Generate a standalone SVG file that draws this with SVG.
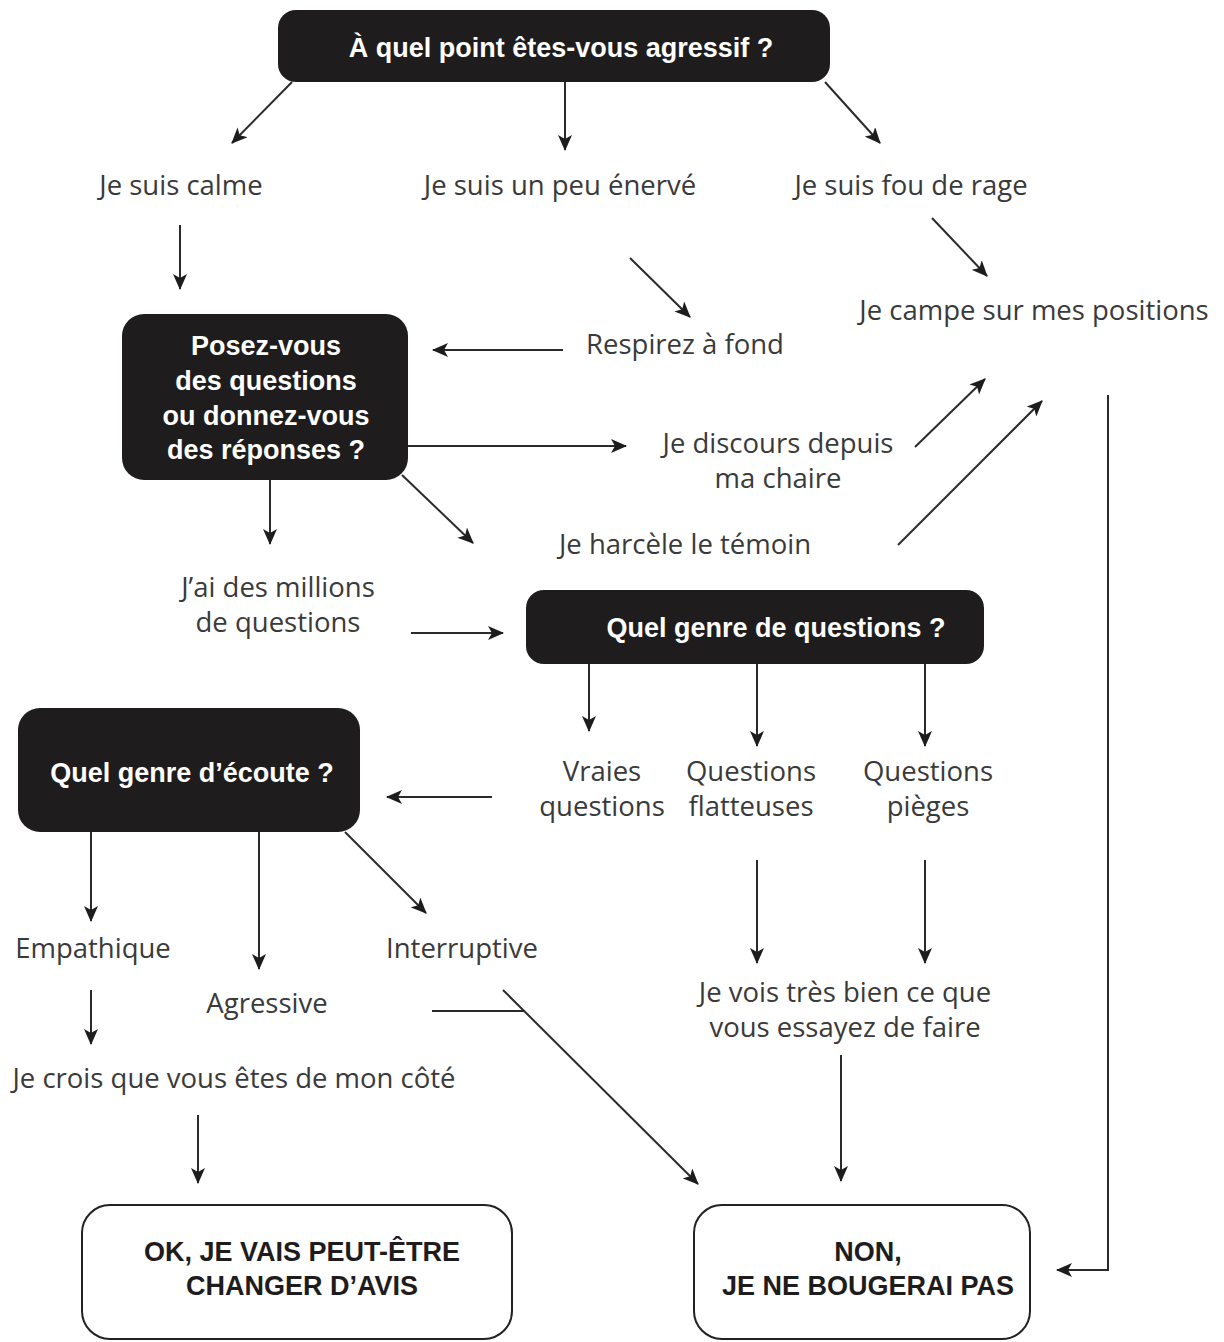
<svg xmlns="http://www.w3.org/2000/svg" width="1224" height="1342" viewBox="0 0 1224 1342">
<style>
.box{fill:#1e1c1c;}
.obox{fill:#fff;stroke:#222;stroke-width:2;}
.bt{font-family:"Liberation Sans","Roboto",sans-serif;font-weight:bold;font-size:27px;fill:#fff;text-anchor:middle;}
.ot{font-family:"Liberation Sans","Roboto",sans-serif;font-weight:bold;font-size:27px;fill:#1e1c1c;text-anchor:middle;}
.lb{font-family:"Open Sans","DejaVu Sans",sans-serif;font-size:27.5px;fill:#3a3a3a;text-anchor:middle;}
.c{stroke:#2a2a2a;stroke-width:2;fill:none;}
.a{marker-end:url(#ah);}
</style>
<defs>
<marker id="ah" markerUnits="userSpaceOnUse" markerWidth="16" markerHeight="14" viewBox="0 0 16 14" refX="15" refY="7" orient="auto">
<path d="M0,0 L16,7 L0,14 L4,7 Z" fill="#1e1c1c"/>
</marker>
</defs>
<rect width="1224" height="1342" fill="#fff"/>

<g id="connectors">
<line class="c a" x1="292" y1="82" x2="232" y2="143"/>
<line class="c a" x1="565" y1="82" x2="565" y2="150"/>
<line class="c a" x1="825" y1="82" x2="880" y2="143"/>
<line class="c a" x1="180" y1="225" x2="180" y2="289"/>
<line class="c a" x1="630" y1="258" x2="690" y2="317"/>
<line class="c a" x1="932" y1="218" x2="987" y2="276"/>
<line class="c a" x1="563" y1="350" x2="433" y2="350"/>
<line class="c a" x1="408" y1="446" x2="626" y2="446"/>
<line class="c a" x1="915" y1="447" x2="985" y2="379"/>
<line class="c a" x1="898" y1="545" x2="1042" y2="401"/>
<line class="c a" x1="402" y1="475" x2="473" y2="543"/>
<line class="c a" x1="270" y1="480" x2="270" y2="544"/>
<line class="c a" x1="411" y1="633" x2="503" y2="633"/>
<polyline class="c a" points="1108,395 1108,1270 1057,1270"/>
<line class="c a" x1="589" y1="664" x2="589" y2="731"/>
<line class="c a" x1="757" y1="664" x2="757" y2="746"/>
<line class="c a" x1="925" y1="664" x2="925" y2="746"/>
<line class="c a" x1="492" y1="797" x2="387" y2="797"/>
<line class="c a" x1="91" y1="832" x2="91" y2="921"/>
<line class="c a" x1="259" y1="832" x2="259" y2="969"/>
<line class="c a" x1="345" y1="832" x2="426" y2="913"/>
<line class="c a" x1="91" y1="990" x2="91" y2="1044"/>
<line class="c a" x1="198" y1="1115" x2="198" y2="1183"/>
<line class="c" x1="432" y1="1011" x2="524" y2="1011"/>
<line class="c a" x1="503" y1="990" x2="698" y2="1184"/>
<line class="c a" x1="757" y1="860" x2="757" y2="963"/>
<line class="c a" x1="925" y1="860" x2="925" y2="963"/>
<line class="c a" x1="841" y1="1055" x2="841" y2="1181"/>
</g>

<g id="q1">
<rect class="box" x="278" y="10" width="552" height="72" rx="18"/>
<text class="bt" x="561" y="57">À quel point êtes-vous agressif ?</text>
</g>
<g id="calme"><text class="lb" x="181" y="195">Je suis calme</text></g>
<g id="enerve"><text class="lb" x="560" y="195">Je suis un peu énervé</text></g>
<g id="rage"><text class="lb" x="911" y="195">Je suis fou de rage</text></g>
<g id="campe"><text class="lb" x="1034" y="320">Je campe sur mes positions</text></g>
<g id="respirez"><text class="lb" x="685" y="354">Respirez à fond</text></g>
<g id="q2">
<rect class="box" x="122" y="314" width="286" height="166" rx="22"/>
<text class="bt" x="266" y="355">Posez-vous</text>
<text class="bt" x="266" y="390">des questions</text>
<text class="bt" x="266" y="425">ou donnez-vous</text>
<text class="bt" x="266" y="459">des réponses ?</text>
</g>
<g id="discours">
<text class="lb" x="778" y="453">Je discours depuis</text>
<text class="lb" x="778" y="488">ma chaire</text>
</g>
<g id="harcele"><text class="lb" x="685" y="554">Je harcèle le témoin</text></g>
<g id="millions">
<text class="lb" x="278" y="597">J’ai des millions</text>
<text class="lb" x="278" y="632">de questions</text>
</g>
<g id="q3">
<rect class="box" x="526" y="590" width="458" height="74" rx="18"/>
<text class="bt" x="776" y="637">Quel genre de questions ?</text>
</g>
<g id="vraies">
<text class="lb" x="602" y="781">Vraies</text>
<text class="lb" x="602" y="816">questions</text>
</g>
<g id="flatteuses">
<text class="lb" x="751" y="781">Questions</text>
<text class="lb" x="751" y="816">flatteuses</text>
</g>
<g id="pieges">
<text class="lb" x="928" y="781">Questions</text>
<text class="lb" x="928" y="816">pièges</text>
</g>
<g id="q4">
<rect class="box" x="18" y="708" width="342" height="124" rx="22"/>
<text class="bt" x="192" y="782">Quel genre d’écoute ?</text>
</g>
<g id="empathique"><text class="lb" x="93" y="958">Empathique</text></g>
<g id="interruptive"><text class="lb" x="462" y="958">Interruptive</text></g>
<g id="agressive"><text class="lb" x="267" y="1013">Agressive</text></g>
<g id="crois"><text class="lb" x="234" y="1088">Je crois que vous êtes de mon côté</text></g>
<g id="vois">
<text class="lb" x="845" y="1002">Je vois très bien ce que</text>
<text class="lb" x="845" y="1037">vous essayez de faire</text>
</g>
<g id="ok">
<rect class="obox" x="82" y="1205" width="430" height="134" rx="28"/>
<text class="ot" x="302" y="1261">OK, JE VAIS PEUT-ÊTRE</text>
<text class="ot" x="302" y="1295">CHANGER D’AVIS</text>
</g>
<g id="non">
<rect class="obox" x="694" y="1205" width="336" height="134" rx="28"/>
<text class="ot" x="868" y="1261">NON,</text>
<text class="ot" x="868" y="1295">JE NE BOUGERAI PAS</text>
</g>
</svg>
